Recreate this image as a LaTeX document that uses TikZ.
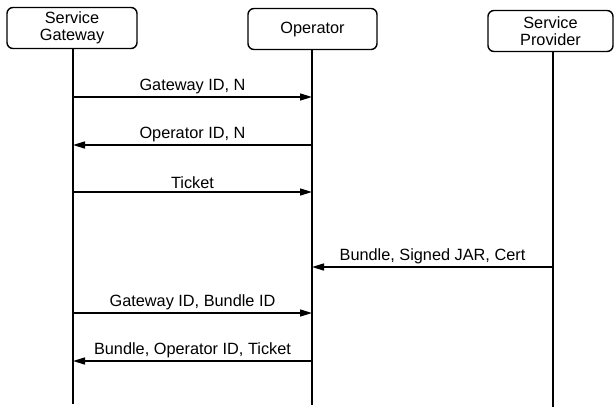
\documentclass[tikz,border=0pt]{standalone}
\usepackage{fontspec}
\setmainfont{Liberation Sans}
\usetikzlibrary{arrows.meta}
\begin{document}
\begin{tikzpicture}[x=1pt,y=-1pt,
  actor/.style={draw, line width=1.4pt, rounded corners=6pt, minimum height=41pt, align=center, font=\fontsize{16.3}{17.5}\selectfont, inner sep=0pt},
  life/.style={line width=1.2pt},
  msg/.style={line width=1.5pt, -{Triangle[length=12pt,width=7pt]}},
  lbl/.style={font=\fontsize{16.3}{18}\selectfont, above, inner sep=2.5pt}]
\useasboundingbox (0,0) rectangle (615,407);
% actors
\node[actor, minimum width=130pt] (sg) at (72,28) {Service\\Gateway};
\node[actor, minimum width=129pt] (op) at (312.5,29) {Operator};
\node[actor, minimum width=125pt] (sp) at (550.5,31) {Service\\Provider};
% lifeline ends
\coordinate (sgT) at (73,48.5);  \coordinate (sgB) at (73,404);
\coordinate (opT) at (312,49.5); \coordinate (opB) at (312,405);
\coordinate (spT) at (553,51.5); \coordinate (spB) at (553,407);
\draw[life] (sgT) -- (sgB);
\draw[life] (opT) -- (opB);
\draw[life] (spT) -- (spB);
% message points
\foreach \n/\y in {1/97,2/145,3/192,4/267,5/313,6/361}{
  \coordinate (sg\n) at (73,\y);
  \coordinate (op\n) at (312,\y);
  \coordinate (sp\n) at (553,\y);
}
\draw[msg] (sg1) -- node[lbl] {Gateway ID, N} (op1);
\draw[msg] (op2) -- node[lbl] {Operator ID, N} (sg2);
\draw[msg] (sg3) -- node[lbl] {Ticket} (op3);
\draw[msg] (sp4) -- node[lbl] {Bundle, Signed JAR, Cert} (op4);
\draw[msg] (sg5) -- node[lbl] {Gateway ID, Bundle ID} (op5);
\draw[msg] (op6) -- node[lbl] {Bundle, Operator ID, Ticket} (sg6);
\end{tikzpicture}
\end{document}
